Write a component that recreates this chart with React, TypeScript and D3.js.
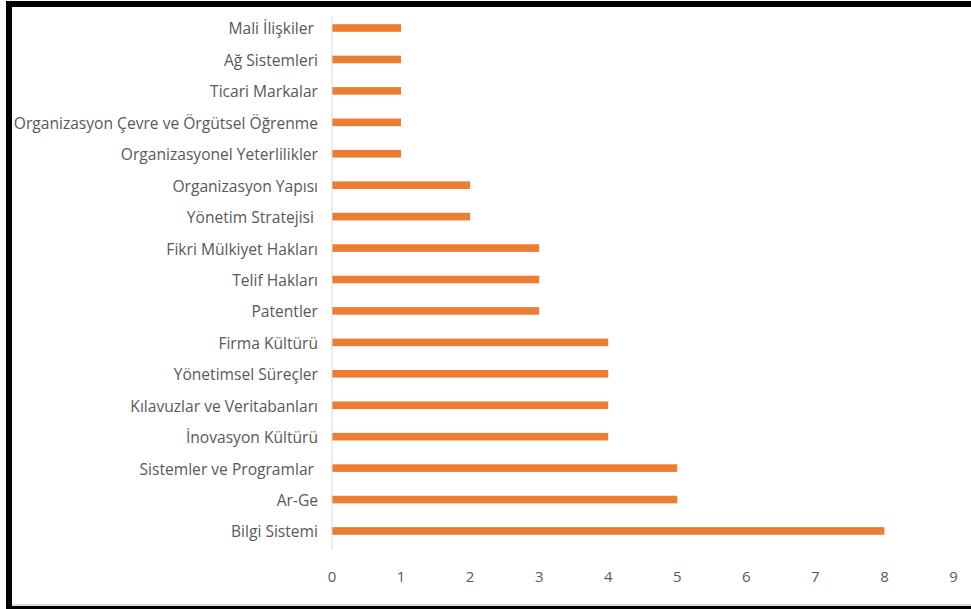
import React from "react";
import * as d3 from "d3";

const categories = [
  "Mali İlişkiler ",
  "Ağ Sistemleri",
  "Ticari Markalar",
  "Organizasyon Çevre ve Örgütsel Öğrenme",
  "Organizasyonel Yeterlilikler",
  "Organizasyon Yapısı",
  "Yönetim Stratejisi ",
  "Fikri Mülkiyet Hakları",
  "Telif Hakları",
  "Patentler",
  "Firma Kültürü",
  "Yönetimsel Süreçler",
  "Kılavuzlar ve Veritabanları",
  "İnovasyon Kültürü",
  "Sistemler ve Programlar ",
  "Ar-Ge",
  "Bilgi Sistemi",
];
const values = [1, 1, 1, 1, 1, 2, 2, 3, 3, 3, 4, 4, 4, 4, 5, 5, 8];
const xTicks = [0, 1, 2, 3, 4, 5, 6, 7, 8, 9];

const W = 971;
const H = 609;
const FONT = "'Open Sans', sans-serif";

export default function App() {
  const x = d3.scaleLinear().domain([0, 9]).range([332, 953.5]);
  const y = d3
    .scaleBand<string>()
    .domain(categories)
    .range([12.3, 546.7])
    .paddingInner(0.76)
    .paddingOuter(0.38);

  return (
    <svg
      width={W}
      height={H}
      style={{ position: "fixed", left: 0, top: 0, background: "#fff" }}
    >
      <rect x={0} y={0} width={W} height={H} fill="#fff" />
      {/* frame */}
      <rect x={6} y={1} width={W - 6} height={6} fill="#000" />
      <rect x={6} y={1} width={6} height={H - 1} fill="#000" />
      <rect x={6} y={606} width={W - 6} height={3} fill="#000" />
      <line x1={12} x2={W} y1={605} y2={605} stroke="#bbb" strokeWidth={1} />

      {/* bars */}
      {categories.map((c, i) => {
        const cy = (y(c) as number) + y.bandwidth() / 2;
        return (
          <rect
            key={c}
            x={x(0)}
            y={cy - 3.8}
            width={x(values[i]) - x(0)}
            height={7.6}
            fill="#ED7D31"
          />
        );
      })}

      {/* vertical axis line */}
      <line
        x1={x(0)}
        x2={x(0)}
        y1={12.3 + 3.5}
        y2={546.7 + 3.5}
        stroke="#D9D9D9"
        strokeWidth={1}
      />

      {/* category labels */}
      {categories.map((c) => {
        const cy = (y(c) as number) + y.bandwidth() / 2;
        return (
          <text
            key={"l" + c}
            x={318}
            y={cy + 1}
            dy="0.35em"
            textAnchor="end"
            fontFamily={FONT}
            fontSize={15.6}
            fill="#595959"
            style={{ whiteSpace: "pre" }}
          >
            {c}
          </text>
        );
      })}

      {/* x tick labels */}
      {xTicks.map((t) => (
        <text
          key={"t" + t}
          x={x(t)}
          y={577}
          dy="0.35em"
          textAnchor="middle"
          fontFamily={FONT}
          fontSize={15}
          fill="#595959"
        >
          {t}
        </text>
      ))}
    </svg>
  );
}
